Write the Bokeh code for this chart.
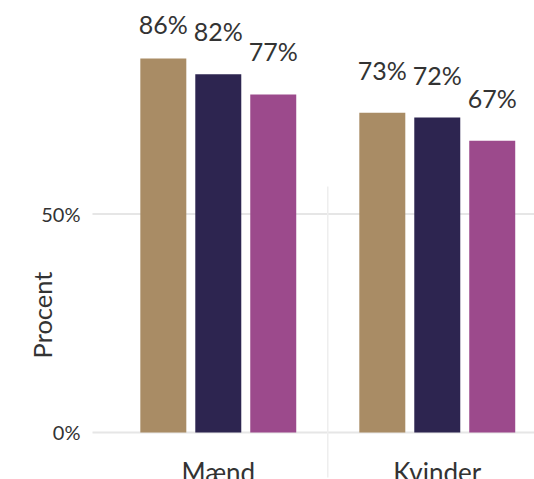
import numpy as np
from bokeh.plotting import figure
from bokeh.models import Range1d
from bokeh.core.properties import value
from bokeh.embed import file_html
from bokeh.resources import INLINE

# ---- data ----
groups = ["Mænd", "Kvinder"]
series_a = [85.6, 73.2]   # tan
series_b = [82.0, 72.1]   # navy
series_c = [77.4, 66.8]   # magenta
labels_a = ["86%", "73%"]
labels_b = ["82%", "72%"]
labels_c = ["77%", "67%"]
y_ticks = [0, 50, 100]
y_tick_labels = ["0%", "50%", "100%"]
y_title = "Procent"

# ---- style ----
FONT = "Lato"
TEXT = "#333333"
colors = ["#A98C65", "#2D2550", "#9C4A8C"]
offsets = [-0.251, 0.0, 0.251]
bar_w = 0.21
X0, X1 = 0.0055, 2.444        # full canvas
Y0, Y1 = -10.76, 98.9
AXIS_X = 0.4256               # left edge of the plotting area
PX = 219.0                    # pixels per x unit

p = figure(width=534, height=479, output_backend="svg", toolbar_location=None,
           title=None, x_range=Range1d(X0, X1), y_range=Range1d(Y0, Y1),
           min_border_left=0, min_border_right=0, min_border_top=0, min_border_bottom=0)
p.outline_line_color = None
p.axis.visible = False
p.grid.visible = False

# y grid lines and tick labels (within the visible range)
tk = [(t, l) for t, l in zip(y_ticks, y_tick_labels) if Y0 <= t <= Y1]
tv = [t for t, _ in tk]
tl = [l for _, l in tk]
p.segment(x0=[AXIS_X] * len(tv), x1=[X1] * len(tv), y0=tv, y1=tv,
          line_color="#E6E6E6", line_width=2)
p.text(x=[AXIS_X - 12 / PX] * len(tv), y=tv, text=tl, text_align="right",
       text_baseline="middle", text_font=value(FONT), text_font_size="20px",
       text_color=TEXT)

# separator between the groups
gx = np.arange(1, len(groups) + 1)
sep_x = (gx[:-1] + gx[1:]) / 2
p.segment(x0=sep_x, x1=sep_x, y0=-10.3, y1=56.3, line_color="#EEEEEE", line_width=1.5)

series = [series_a, series_b, series_c]
labs = [labels_a, labels_b, labels_c]
for vals, lab, col, off in zip(series, labs, colors, offsets):
    xs = gx + off
    p.vbar(x=xs, top=vals, bottom=0, width=bar_w, fill_color=col, line_color=None)
    ly = np.minimum(np.array(vals) + 9.85, 93.5)
    p.text(x=xs, y=ly, text=lab, text_align="center", text_baseline="middle",
           text_font=value(FONT), text_font_size="25px", text_color=TEXT)

# category labels
p.text(x=gx, y=[-8.93] * len(groups), text=groups, text_align="center",
       text_baseline="middle", text_font=value(FONT), text_font_size="26px",
       text_color=TEXT)

# y axis title
p.text(x=[AXIS_X - 50 / PX], y=[26.9], text=[y_title], angle=np.pi / 2,
       text_align="center", text_baseline="middle", text_font=value(FONT),
       text_font_size="25.5px", text_color=TEXT)

open("out.html", "w").write(file_html(p, INLINE))
